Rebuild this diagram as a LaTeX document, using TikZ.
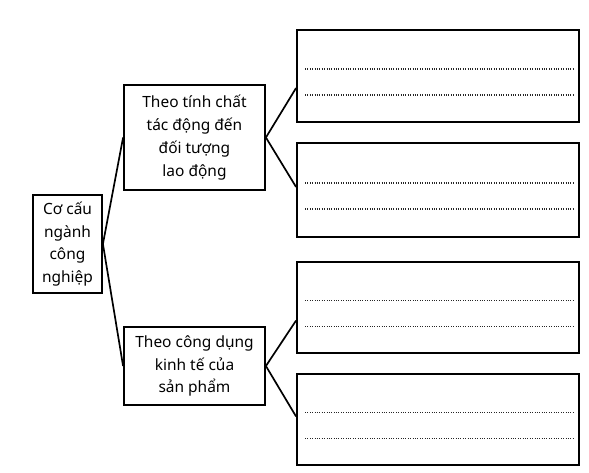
\documentclass[tikz,border=0pt]{standalone}
\usepackage{fontspec}
\setmainfont{Noto Sans}
\usetikzlibrary{calc}

\tikzset{
  box/.style={draw, line width=1.3pt, align=center, inner sep=0pt},
  link/.style={line width=1.2pt},
  rule/.style={line width=0.75pt, dash pattern=on 0.6pt off 1.1pt, black!85}
}

\begin{document}
\begin{tikzpicture}[x=0.025cm, y=-0.025cm, font=\fontsize{11}{16.2}\selectfont]

\useasboundingbox (0,0) rectangle (589,472);

\node[box, minimum width=69*0.025cm, minimum height=98*0.025cm] (root) at (67.5,244) {Cơ cấu\\ngành\\công\\nghiệp};
\node[box, minimum width=141*0.025cm, minimum height=105*0.025cm] (tinhchat) at (194.5,137.5) {Theo tính chất\\tác động đến\\đối tượng\\lao động};
\node[box, minimum width=141*0.025cm, minimum height=78*0.025cm] (congdung) at (194.5,366) {Theo công dụng\\kinh tế của\\sản phẩm};

\node[box, minimum width=282*0.025cm, minimum height=92*0.025cm] (r1) at (438,76) {};
\node[box, minimum width=282*0.025cm, minimum height=94*0.025cm] (r2) at (438,190) {};
\node[box, minimum width=282*0.025cm, minimum height=91*0.025cm] (r3) at (438,307.5) {};
\node[box, minimum width=282*0.025cm, minimum height=91*0.025cm] (r4) at (438,419.5) {};

\draw[link] (root.east) -- (tinhchat.west);
\draw[link] (root.east) -- (congdung.west);
\draw[link] (tinhchat.east) -- ([yshift=-0.3cm]r1.west);
\draw[link] (tinhchat.east) -- ([yshift=0.075cm]r2.west);
\draw[link] (congdung.east) -- ([yshift=-0.325cm]r3.west);
\draw[link] (congdung.east) -- ([yshift=0.075cm]r4.west);

\foreach \b in {r1,r2,r3,r4} {
  \draw[rule] ($(\b.center)+(-133,-7)$) -- ($(\b.center)+(135,-7)$);
  \draw[rule] ($(\b.center)+(-133,19)$) -- ($(\b.center)+(135,19)$);
}

\end{tikzpicture}
\end{document}
